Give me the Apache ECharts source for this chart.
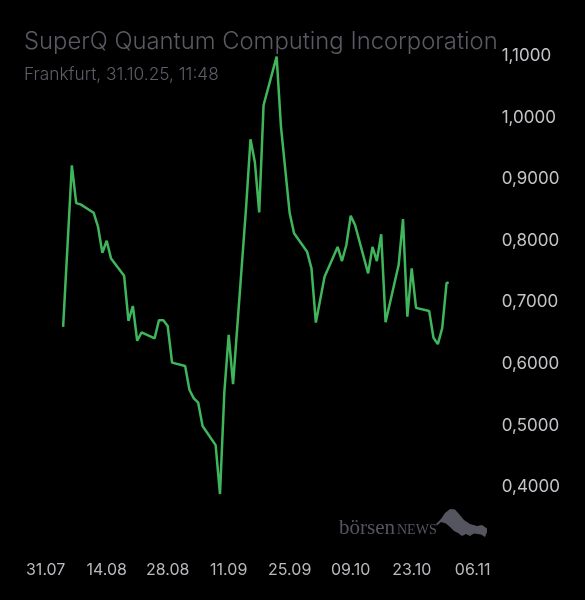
<!DOCTYPE html>
<html><head><meta charset="utf-8">
<script src="https://cdn.jsdelivr.net/npm/echarts@6/dist/echarts.min.js"></script>
<style>html,body{margin:0;padding:0;background:#000}#c{width:585px;height:600px}</style>
</head><body><div id="c"></div>
<script>
const startDate = '2025-07-31 00:00';
const dates = [
 '2025-08-04','2025-08-06','2025-08-07','2025-08-08','2025-08-11','2025-08-12','2025-08-13','2025-08-14','2025-08-15',
 '2025-08-18','2025-08-19','2025-08-20','2025-08-21','2025-08-22','2025-08-25','2025-08-26','2025-08-27','2025-08-28','2025-08-29',
 '2025-09-01','2025-09-02','2025-09-03','2025-09-04','2025-09-05','2025-09-08','2025-09-09','2025-09-10','2025-09-11','2025-09-12',
 '2025-09-15','2025-09-16','2025-09-17','2025-09-18','2025-09-19','2025-09-22','2025-09-23','2025-09-25','2025-09-26',
 '2025-09-29','2025-09-30','2025-10-01','2025-10-03','2025-10-06','2025-10-07','2025-10-08','2025-10-09','2025-10-10',
 '2025-10-13','2025-10-14','2025-10-15','2025-10-16','2025-10-17','2025-10-20','2025-10-21','2025-10-22','2025-10-23','2025-10-24',
 '2025-10-27','2025-10-28','2025-10-29','2025-10-30','2025-10-31','2025-10-31 11:48'
];
const prices = [
 0.660,0.9225,0.861,0.859,0.8455,0.823,0.7805,0.800,0.771,
 0.743,0.670,0.694,0.6376,0.651,0.6415,0.671,0.671,0.6615,0.602,
 0.5965,0.5575,0.544,0.537,0.499,0.468,0.3886,0.554,0.647,0.567,
 0.855,0.9647,0.928,0.846,1.020,1.099,0.985,0.8445,0.812,
 0.782,0.755,0.667,0.7415,0.790,0.767,0.793,0.8406,0.8255,
 0.747,0.790,0.767,0.8104,0.6675,0.7605,0.835,0.6766,0.755,0.691,
 0.686,0.6425,0.632,0.658,0.731,0.7325
];
const xTickLabels = ['31.07','14.08','28.08','11.09','25.09','09.10','23.10','06.11'];
const xTickStepDays = 14;
const yMin = 0.3, yMax = 1.1, yStep = 0.1;
const titleText = 'SuperQ Quantum Computing Incorporation';
const subtitleText = 'Frankfurt, 31.10.25, 11:48';

function toMs(s){
  const p = s.split(' ');
  const t = p[1] || '00:00';
  return Date.parse(p[0] + 'T' + t + ':00Z');
}
const t0 = toMs(startDate);
const seriesData = dates.map((d,i)=>[(toMs(d)-t0)/86400000, prices[i]]);
const xMax = (xTickLabels.length-1)*xTickStepDays;

const chart = echarts.init(document.getElementById('c'), null, {renderer:'canvas'});
chart.setOption({
  backgroundColor:'#000',
  animation:false,
  grid:{left:45.7, right:112.3, top:56, bottom:51.4},
  xAxis:{type:'value', min:0, max:xMax, interval:xTickStepDays,
    axisLine:{show:false}, axisTick:{show:false}, splitLine:{show:false},
    axisLabel:{margin:14, color:'#b9b9bd', fontSize:16, fontFamily:'Inter',
      formatter:v=>xTickLabels[Math.round(v/xTickStepDays)]||''}},
  yAxis:{type:'value', position:'right', min:yMin, max:yMax, interval:yStep,
    axisLine:{show:false}, axisTick:{show:false}, splitLine:{show:false},
    axisLabel:{margin:29, color:'#c4c4c8', fontSize:17, fontFamily:'Inter', align:'left',
      formatter:v=> v < yMin + yStep/2 ? '' : v.toFixed(4).replace('.',',')}},
  series:[{type:'line', data:seriesData, showSymbol:false, clip:false,
    lineStyle:{color:'#3fb65b', width:2.5}, itemStyle:{color:'#3fb65b'}}],
  graphic:[
    {type:'text', style:{x:24, y:42, text:titleText, font:'300 23.8px Inter', fill:'#5a5a64', verticalAlign:'middle'}},
    {type:'text', style:{x:24, y:75, text:subtitleText, font:'300 17.3px Inter', fill:'#5e5e68', verticalAlign:'middle'}},
    {type:'text', style:{x:339, y:528, text:'börsen', font:'21px "Liberation Serif"', fill:'#55555f', verticalAlign:'middle'}},
    {type:'text', style:{x:397, y:530, text:'NEWS', font:'14px "Liberation Serif"', fill:'#55555f', verticalAlign:'middle'}},
    {type:'polygon', shape:{points:[[436,524],[441,519],[445,513],[450,509],[455,509.5],[459,514],[464,520],[470,524],[477,526],[482,525],[487,528.5],[487,532],[485,537],[481,534.5],[474,533.5],[470,536],[466,534],[462,536],[458,533],[454,531],[450,527],[446,523.5],[441,522],[437,525.5]]},
      style:{fill:'#55555f'}}
  ]
});
</script></body></html>
